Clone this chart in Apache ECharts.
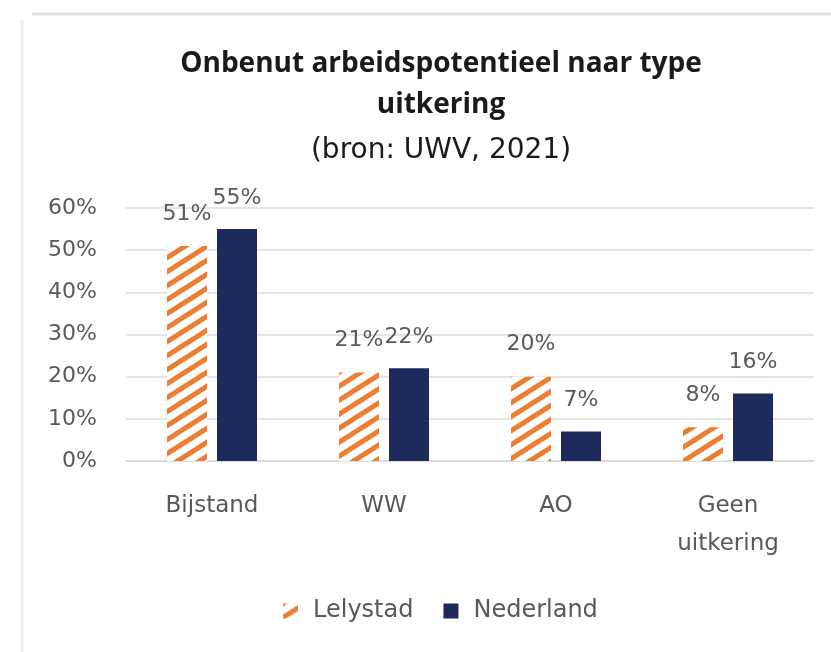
<!DOCTYPE html>
<html>
<head>
<meta charset="utf-8">
<script src="https://cdn.jsdelivr.net/npm/echarts@6/dist/echarts.min.js"></script>
<style>
html,body{margin:0;padding:0;background:#fff;}
#chart{width:831px;height:652px;}
</style>
</head>
<body>
<div id="chart"></div>
<script>
const categories = ['Bijstand', 'WW', 'AO', 'Geen\nuitkering'];
const lelystad = [51, 21, 20, 8];
const nederland = [55, 22, 7, 16];
const yTicks = [0, 10, 20, 30, 40, 50, 60];

function hatch() {
  const w = 22, h = 14;
  const c = document.createElement('canvas');
  c.width = w; c.height = h;
  const g = c.getContext('2d');
  g.fillStyle = '#ffffff';
  g.fillRect(0, 0, w, h);
  g.strokeStyle = '#ED7D31';
  g.lineWidth = 5;
  g.beginPath();
  for (let k = -1; k <= 1; k++) {
    g.moveTo(k * w - 2 * w / h, h + 2);
    g.lineTo(k * w + w + 2 * w / h, -2);
  }
  g.stroke();
  return c;
}

const font = '"DejaVu Sans", "Open Sans", sans-serif';
const titleFont = '"Open Sans", Lato, sans-serif';
const chart = echarts.init(document.getElementById('chart'), null, {renderer: 'canvas'});
chart.setOption({
  backgroundColor: '#ffffff',
  animation: false,
  graphic: [
    {type: 'line', shape: {x1: 32, y1: 14, x2: 831, y2: 14}, style: {stroke: '#e3e3e3', lineWidth: 3}},
    {type: 'line', shape: {x1: 22, y1: 20, x2: 22, y2: 652}, style: {stroke: '#efefef', lineWidth: 3}}
  ],
  title: [
    {text: 'Onbenut arbeidspotentieel naar type\nuitkering', left: 436, textAlign: 'center', top: 39,
     textStyle: {fontFamily: titleFont, fontWeight: 'bold', fontSize: 28, color: '#1a1a1a', lineHeight: 41}},
    {text: '(bron: UWV, 2021)', left: 436, textAlign: 'center', top: 129,
     textStyle: {fontFamily: font, fontWeight: 'normal', fontSize: 28, color: '#1a1a1a', lineHeight: 34}}
  ],
  grid: {left: 126, right: 17, top: 208, bottom: 191, containLabel: false},
  legend: {
    top: 594, left: 278, itemWidth: 15, itemHeight: 15, itemGap: 30,
    textStyle: {fontFamily: font, fontSize: 24, color: '#595959', padding: [0, 0, 0, 10]},
    data: [{name: 'Lelystad', icon: 'rect'}, {name: 'Nederland', icon: 'rect'}]
  },
  xAxis: {
    type: 'category', data: categories,
    axisLine: {show: true, lineStyle: {color: '#d9d9d9', width: 1.5}},
    axisTick: {show: false},
    axisLabel: {fontFamily: font, fontSize: 23, color: '#595959', margin: 26, lineHeight: 38}
  },
  yAxis: {
    type: 'value', min: 0, max: 60, interval: 10,
    axisLine: {show: false}, axisTick: {show: false},
    splitLine: {lineStyle: {color: '#dcdcdc', width: 1.5}},
    axisLabel: {fontFamily: font, fontSize: 22, color: '#595959', margin: 29,
      formatter: v => yTicks.includes(v) ? v + '%' : ''}
  },
  series: [
    {name: 'Lelystad', type: 'bar', data: lelystad, barWidth: 40, barGap: '25%',
     itemStyle: {color: {image: hatch(), repetition: 'repeat'}},
     label: {show: true, position: 'top', distance: 21, formatter: '{c}%',
       fontFamily: font, fontSize: 22, color: '#595959'}},
    {name: 'Nederland', type: 'bar', data: nederland, barWidth: 40,
     itemStyle: {color: '#1F2A5C'},
     label: {show: true, position: 'top', distance: 20, formatter: '{c}%',
       fontFamily: font, fontSize: 22, color: '#595959'}}
  ]
});
</script>
</body>
</html>
